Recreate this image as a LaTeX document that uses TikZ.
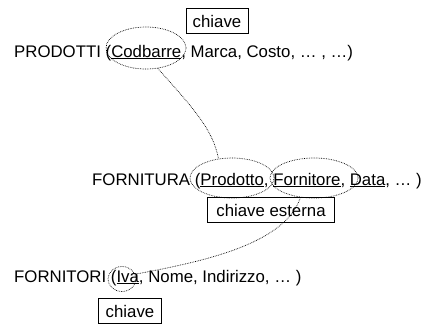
\documentclass[tikz,border=0pt]{standalone}
\usepackage{fontspec}
\setmainfont{Liberation Sans}
\usetikzlibrary{shapes}
\newcommand{\ul}[1]{\setbox0\hbox{#1}\rlap{\rule[-2.2pt]{\wd0}{1.3pt}}\box0}

\begin{document}
\begin{tikzpicture}[x=10pt,y=-10pt,font=\fontsize{16.8}{20}\selectfont]
\tikzset{oval/.style={ellipse,draw,densely dotted,line width=0.7pt,inner sep=0pt},
  keybox/.style={draw,line width=0.8pt,inner sep=0pt,minimum height=25pt}}
\useasboundingbox (0,0) rectangle (43,32.7);
\node[anchor=base west,inner sep=0pt] (prodotti) at (1.4,5.7) {PRODOTTI (\ul{Codbarre}, Marca, Costo, \dots\ , \dots)};
\node[anchor=base west,inner sep=0pt] (fornitura) at (9.2,18.5) {FORNITURA (\ul{Prodotto}, \ul{Fornitore}, \ul{Data}, \dots\ )};
\node[anchor=base west,inner sep=0pt] (fornitori) at (1.4,28.2) {FORNITORI (\ul{Iva}, Nome, Indirizzo, \dots\ )};
\node[keybox,minimum width=62pt] (k1) at (21.7,2.1) {chiave};
\node[keybox,minimum width=127pt] (k2) at (27.1,21) {chiave esterna};
\node[keybox,minimum width=63pt] (k3) at (13,31.1) {chiave};
\node[oval,minimum width=80pt,minimum height=42pt] (codbarre) at (14.6,4.8) {};
\node[oval,minimum width=84pt,minimum height=40pt] (prodotto) at (23.2,17.8) {};
\node[oval,minimum width=88pt,minimum height=40pt] (fornitore) at (31.4,17.8) {};
\node[oval,minimum width=28pt,minimum height=25pt] (iva) at (12.2,27.9) {};
\draw[densely dotted,line width=0.7pt] (codbarre.-60) .. controls (19.5,11) and (21.3,13) .. (prodotto.125);
\draw[densely dotted,line width=0.7pt] (fornitore.235) .. controls (28.5,24.5) and (20,26.2) .. (iva.20);
\end{tikzpicture}
\end{document}
